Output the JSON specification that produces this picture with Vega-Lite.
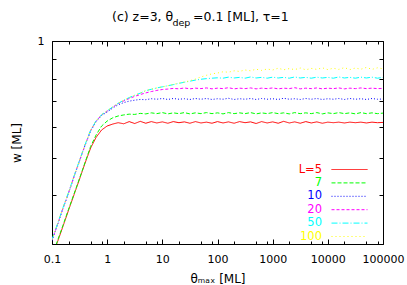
{
"$schema": "https://vega.github.io/schema/vega-lite/v6.json",
"width": 331, "height": 203,
"autosize": "none",
"padding": {"left": 52, "top": 41, "right": 24, "bottom": 41},
"background": "white",
"config": {"view": {"stroke": "#000", "strokeWidth": 1}, "font": "DejaVu Sans"},
"title": {"text": "(c) z=3, θ\u00a0\u00a0\u00a0\u00a0\u00a0=0.1 [ML], τ=1", "subtitle": "\u200b\u00a0\u00a0\u00a0\u00a0\u00a0\u00a0\u00a0\u00a0\u00a0\u00a0\u00a0\u00a0\u00a0\u00a0\u00a0\u00a0\u00a0\u00a0\u00a0\u00a0dep", "anchor": "start", "frame": "group", "dx": 60, "font": "DejaVu Sans", "fontSize": 12.5, "fontWeight": "normal", "color": "#000", "subtitleFont": "DejaVu Sans", "subtitleFontSize": 9.5, "subtitleColor": "#000", "subtitlePadding": -6, "offset": 8},
"data": {"values": [
{"t":0.1,"L":5,"w":0.277},{"t":0.126,"L":5,"w":0.304},{"t":0.158,"L":5,"w":0.333},{"t":0.2,"L":5,"w":0.367},{"t":0.251,"L":5,"w":0.402},{"t":0.316,"L":5,"w":0.441},{"t":0.398,"L":5,"w":0.485},{"t":0.501,"L":5,"w":0.530},{"t":0.631,"L":5,"w":0.565},{"t":0.794,"L":5,"w":0.590},
{"t":1,"L":5,"w":0.604},{"t":1.26,"L":5,"w":0.611},{"t":1.58,"L":5,"w":0.616},{"t":2,"L":5,"w":0.612},{"t":2.51,"L":5,"w":0.620},{"t":3.16,"L":5,"w":0.613},{"t":3.98,"L":5,"w":0.621},{"t":5.01,"L":5,"w":0.614},{"t":6.31,"L":5,"w":0.620},{"t":7.94,"L":5,"w":0.615},
{"t":10,"L":5,"w":0.619},{"t":12.6,"L":5,"w":0.614},{"t":15.8,"L":5,"w":0.620},{"t":20,"L":5,"w":0.616},{"t":25.1,"L":5,"w":0.619},{"t":31.6,"L":5,"w":0.614},{"t":39.8,"L":5,"w":0.620},{"t":50.1,"L":5,"w":0.615},{"t":63.1,"L":5,"w":0.618},{"t":79.4,"L":5,"w":0.614},
{"t":100,"L":5,"w":0.620},{"t":126,"L":5,"w":0.615},{"t":158,"L":5,"w":0.619},{"t":200,"L":5,"w":0.614},{"t":251,"L":5,"w":0.620},{"t":316,"L":5,"w":0.616},{"t":398,"L":5,"w":0.619},{"t":501,"L":5,"w":0.613},{"t":631,"L":5,"w":0.620},{"t":794,"L":5,"w":0.615},
{"t":1000,"L":5,"w":0.619},{"t":1260,"L":5,"w":0.614},{"t":1580,"L":5,"w":0.621},{"t":2000,"L":5,"w":0.615},{"t":2510,"L":5,"w":0.619},{"t":3160,"L":5,"w":0.614},{"t":3980,"L":5,"w":0.620},{"t":5010,"L":5,"w":0.615},{"t":6310,"L":5,"w":0.619},{"t":7940,"L":5,"w":0.614},
{"t":10000,"L":5,"w":0.618},{"t":12600,"L":5,"w":0.616},{"t":15800,"L":5,"w":0.618},{"t":20000,"L":5,"w":0.615},{"t":25100,"L":5,"w":0.618},{"t":31600,"L":5,"w":0.616},{"t":39800,"L":5,"w":0.618},{"t":50100,"L":5,"w":0.615},{"t":63100,"L":5,"w":0.618},{"t":79400,"L":5,"w":0.616},{"t":100000,"L":5,"w":0.617},

{"t":0.1,"L":7,"w":0.279},{"t":0.126,"L":7,"w":0.306},{"t":0.158,"L":7,"w":0.335},{"t":0.2,"L":7,"w":0.369},{"t":0.251,"L":7,"w":0.404},{"t":0.316,"L":7,"w":0.443},{"t":0.398,"L":7,"w":0.487},{"t":0.501,"L":7,"w":0.535},{"t":0.631,"L":7,"w":0.573},{"t":0.794,"L":7,"w":0.604},
{"t":1,"L":7,"w":0.622},{"t":1.26,"L":7,"w":0.634},{"t":1.58,"L":7,"w":0.641},{"t":2,"L":7,"w":0.645},{"t":2.51,"L":7,"w":0.648},{"t":3.16,"L":7,"w":0.647},{"t":3.98,"L":7,"w":0.651},{"t":5.01,"L":7,"w":0.649},{"t":6.31,"L":7,"w":0.653},{"t":7.94,"L":7,"w":0.650},
{"t":10,"L":7,"w":0.654},{"t":12.6,"L":7,"w":0.649},{"t":15.8,"L":7,"w":0.653},{"t":20,"L":7,"w":0.650},{"t":25.1,"L":7,"w":0.654},{"t":31.6,"L":7,"w":0.649},{"t":39.8,"L":7,"w":0.653},{"t":50.1,"L":7,"w":0.650},{"t":63.1,"L":7,"w":0.654},{"t":79.4,"L":7,"w":0.650},
{"t":100,"L":7,"w":0.653},{"t":126,"L":7,"w":0.649},{"t":158,"L":7,"w":0.654},{"t":200,"L":7,"w":0.650},{"t":251,"L":7,"w":0.653},{"t":316,"L":7,"w":0.650},{"t":398,"L":7,"w":0.654},{"t":501,"L":7,"w":0.649},{"t":631,"L":7,"w":0.653},{"t":794,"L":7,"w":0.650},
{"t":1000,"L":7,"w":0.654},{"t":1260,"L":7,"w":0.650},{"t":1580,"L":7,"w":0.653},{"t":2000,"L":7,"w":0.649},{"t":2510,"L":7,"w":0.654},{"t":3160,"L":7,"w":0.650},{"t":3980,"L":7,"w":0.653},{"t":5010,"L":7,"w":0.650},{"t":6310,"L":7,"w":0.654},{"t":7940,"L":7,"w":0.649},
{"t":10000,"L":7,"w":0.653},{"t":12600,"L":7,"w":0.650},{"t":15800,"L":7,"w":0.654},{"t":20000,"L":7,"w":0.650},{"t":25100,"L":7,"w":0.653},{"t":31600,"L":7,"w":0.649},{"t":39800,"L":7,"w":0.654},{"t":50100,"L":7,"w":0.650},{"t":63100,"L":7,"w":0.653},{"t":79400,"L":7,"w":0.650},{"t":100000,"L":7,"w":0.652},

{"t":0.1,"L":10,"w":0.306},{"t":0.126,"L":10,"w":0.336},{"t":0.158,"L":10,"w":0.370},{"t":0.2,"L":10,"w":0.406},{"t":0.251,"L":10,"w":0.447},{"t":0.316,"L":10,"w":0.491},{"t":0.398,"L":10,"w":0.539},{"t":0.501,"L":10,"w":0.586},{"t":0.631,"L":10,"w":0.620},{"t":0.794,"L":10,"w":0.643},
{"t":1,"L":10,"w":0.656},{"t":1.26,"L":10,"w":0.672},{"t":1.58,"L":10,"w":0.685},{"t":2,"L":10,"w":0.694},{"t":2.51,"L":10,"w":0.700},{"t":3.16,"L":10,"w":0.704},{"t":3.98,"L":10,"w":0.707},{"t":5.01,"L":10,"w":0.706},{"t":6.31,"L":10,"w":0.710},{"t":7.94,"L":10,"w":0.708},
{"t":10,"L":10,"w":0.711},{"t":12.6,"L":10,"w":0.707},{"t":15.8,"L":10,"w":0.711},{"t":20,"L":10,"w":0.708},{"t":25.1,"L":10,"w":0.710},{"t":31.6,"L":10,"w":0.707},{"t":39.8,"L":10,"w":0.711},{"t":50.1,"L":10,"w":0.708},{"t":63.1,"L":10,"w":0.711},{"t":79.4,"L":10,"w":0.707},
{"t":100,"L":10,"w":0.710},{"t":126,"L":10,"w":0.708},{"t":158,"L":10,"w":0.712},{"t":200,"L":10,"w":0.707},{"t":251,"L":10,"w":0.710},{"t":316,"L":10,"w":0.708},{"t":398,"L":10,"w":0.711},{"t":501,"L":10,"w":0.707},{"t":631,"L":10,"w":0.711},{"t":794,"L":10,"w":0.708},
{"t":1000,"L":10,"w":0.710},{"t":1260,"L":10,"w":0.707},{"t":1580,"L":10,"w":0.712},{"t":2000,"L":10,"w":0.708},{"t":2510,"L":10,"w":0.710},{"t":3160,"L":10,"w":0.707},{"t":3980,"L":10,"w":0.711},{"t":5010,"L":10,"w":0.708},{"t":6310,"L":10,"w":0.711},{"t":7940,"L":10,"w":0.707},
{"t":10000,"L":10,"w":0.710},{"t":12600,"L":10,"w":0.708},{"t":15800,"L":10,"w":0.711},{"t":20000,"L":10,"w":0.707},{"t":25100,"L":10,"w":0.711},{"t":31600,"L":10,"w":0.708},{"t":39800,"L":10,"w":0.710},{"t":50100,"L":10,"w":0.707},{"t":63100,"L":10,"w":0.711},{"t":79400,"L":10,"w":0.708},{"t":100000,"L":10,"w":0.709},

{"t":0.1,"L":20,"w":0.307},{"t":0.126,"L":20,"w":0.337},{"t":0.158,"L":20,"w":0.371},{"t":0.2,"L":20,"w":0.407},{"t":0.251,"L":20,"w":0.448},{"t":0.316,"L":20,"w":0.492},{"t":0.398,"L":20,"w":0.540},{"t":0.501,"L":20,"w":0.588},{"t":0.631,"L":20,"w":0.622},{"t":0.794,"L":20,"w":0.645},
{"t":1,"L":20,"w":0.660},{"t":1.26,"L":20,"w":0.675},{"t":1.58,"L":20,"w":0.690},{"t":2,"L":20,"w":0.701},{"t":2.51,"L":20,"w":0.711},{"t":3.16,"L":20,"w":0.720},{"t":3.98,"L":20,"w":0.728},{"t":5.01,"L":20,"w":0.735},{"t":6.31,"L":20,"w":0.741},{"t":7.94,"L":20,"w":0.746},
{"t":10,"L":20,"w":0.750},{"t":12.6,"L":20,"w":0.752},{"t":15.8,"L":20,"w":0.755},{"t":20,"L":20,"w":0.753},{"t":25.1,"L":20,"w":0.757},{"t":31.6,"L":20,"w":0.753},{"t":39.8,"L":20,"w":0.756},{"t":50.1,"L":20,"w":0.754},{"t":63.1,"L":20,"w":0.757},{"t":79.4,"L":20,"w":0.753},
{"t":100,"L":20,"w":0.756},{"t":126,"L":20,"w":0.754},{"t":158,"L":20,"w":0.758},{"t":200,"L":20,"w":0.753},{"t":251,"L":20,"w":0.756},{"t":316,"L":20,"w":0.754},{"t":398,"L":20,"w":0.757},{"t":501,"L":20,"w":0.753},{"t":631,"L":20,"w":0.756},{"t":794,"L":20,"w":0.754},
{"t":1000,"L":20,"w":0.757},{"t":1260,"L":20,"w":0.753},{"t":1580,"L":20,"w":0.756},{"t":2000,"L":20,"w":0.754},{"t":2510,"L":20,"w":0.758},{"t":3160,"L":20,"w":0.753},{"t":3980,"L":20,"w":0.756},{"t":5010,"L":20,"w":0.754},{"t":6310,"L":20,"w":0.757},{"t":7940,"L":20,"w":0.753},
{"t":10000,"L":20,"w":0.756},{"t":12600,"L":20,"w":0.754},{"t":15800,"L":20,"w":0.757},{"t":20000,"L":20,"w":0.753},{"t":25100,"L":20,"w":0.756},{"t":31600,"L":20,"w":0.754},{"t":39800,"L":20,"w":0.757},{"t":50100,"L":20,"w":0.754},{"t":63100,"L":20,"w":0.756},{"t":79400,"L":20,"w":0.754},{"t":100000,"L":20,"w":0.755},

{"t":0.1,"L":50,"w":0.308},{"t":0.126,"L":50,"w":0.338},{"t":0.158,"L":50,"w":0.372},{"t":0.2,"L":50,"w":0.408},{"t":0.251,"L":50,"w":0.449},{"t":0.316,"L":50,"w":0.493},{"t":0.398,"L":50,"w":0.541},{"t":0.501,"L":50,"w":0.589},{"t":0.631,"L":50,"w":0.623},{"t":0.794,"L":50,"w":0.646},
{"t":1,"L":50,"w":0.661},{"t":1.26,"L":50,"w":0.676},{"t":1.58,"L":50,"w":0.691},{"t":2,"L":50,"w":0.704},{"t":2.51,"L":50,"w":0.715},{"t":3.16,"L":50,"w":0.725},{"t":3.98,"L":50,"w":0.734},{"t":5.01,"L":50,"w":0.745},{"t":6.31,"L":50,"w":0.751},{"t":7.94,"L":50,"w":0.757},
{"t":10,"L":50,"w":0.762},{"t":12.6,"L":50,"w":0.767},{"t":15.8,"L":50,"w":0.772},{"t":20,"L":50,"w":0.778},{"t":25.1,"L":50,"w":0.783},{"t":31.6,"L":50,"w":0.788},{"t":39.8,"L":50,"w":0.793},{"t":50.1,"L":50,"w":0.797},{"t":63.1,"L":50,"w":0.800},{"t":79.4,"L":50,"w":0.802},
{"t":100,"L":50,"w":0.804},{"t":126,"L":50,"w":0.802},{"t":158,"L":50,"w":0.807},{"t":200,"L":50,"w":0.803},{"t":251,"L":50,"w":0.806},{"t":316,"L":50,"w":0.802},{"t":398,"L":50,"w":0.808},{"t":501,"L":50,"w":0.803},{"t":631,"L":50,"w":0.806},{"t":794,"L":50,"w":0.802},
{"t":1000,"L":50,"w":0.807},{"t":1260,"L":50,"w":0.803},{"t":1580,"L":50,"w":0.806},{"t":2000,"L":50,"w":0.802},{"t":2510,"L":50,"w":0.808},{"t":3160,"L":50,"w":0.803},{"t":3980,"L":50,"w":0.806},{"t":5010,"L":50,"w":0.802},{"t":6310,"L":50,"w":0.807},{"t":7940,"L":50,"w":0.803},
{"t":10000,"L":50,"w":0.806},{"t":12600,"L":50,"w":0.802},{"t":15800,"L":50,"w":0.808},{"t":20000,"L":50,"w":0.803},{"t":25100,"L":50,"w":0.806},{"t":31600,"L":50,"w":0.802},{"t":39800,"L":50,"w":0.807},{"t":50100,"L":50,"w":0.803},{"t":63100,"L":50,"w":0.807},{"t":79400,"L":50,"w":0.802},{"t":100000,"L":50,"w":0.806},

{"t":0.1,"L":100,"w":0.308},{"t":0.126,"L":100,"w":0.338},{"t":0.158,"L":100,"w":0.372},{"t":0.2,"L":100,"w":0.408},{"t":0.251,"L":100,"w":0.449},{"t":0.316,"L":100,"w":0.493},{"t":0.398,"L":100,"w":0.541},{"t":0.501,"L":100,"w":0.589},{"t":0.631,"L":100,"w":0.623},{"t":0.794,"L":100,"w":0.646},
{"t":1,"L":100,"w":0.661},{"t":1.26,"L":100,"w":0.676},{"t":1.58,"L":100,"w":0.691},{"t":2,"L":100,"w":0.704},{"t":2.51,"L":100,"w":0.715},{"t":3.16,"L":100,"w":0.725},{"t":3.98,"L":100,"w":0.734},{"t":5.01,"L":100,"w":0.745},{"t":6.31,"L":100,"w":0.751},{"t":7.94,"L":100,"w":0.757},
{"t":10,"L":100,"w":0.762},{"t":12.6,"L":100,"w":0.767},{"t":15.8,"L":100,"w":0.773},{"t":20,"L":100,"w":0.779},{"t":25.1,"L":100,"w":0.784},{"t":31.6,"L":100,"w":0.790},{"t":39.8,"L":100,"w":0.798},{"t":50.1,"L":100,"w":0.808},{"t":63.1,"L":100,"w":0.816},{"t":79.4,"L":100,"w":0.823},
{"t":100,"L":100,"w":0.827},{"t":126,"L":100,"w":0.833},{"t":158,"L":100,"w":0.831},{"t":200,"L":100,"w":0.838},{"t":251,"L":100,"w":0.835},{"t":316,"L":100,"w":0.842},{"t":398,"L":100,"w":0.838},{"t":501,"L":100,"w":0.846},{"t":631,"L":100,"w":0.840},{"t":794,"L":100,"w":0.847},
{"t":1000,"L":100,"w":0.842},{"t":1260,"L":100,"w":0.851},{"t":1580,"L":100,"w":0.843},{"t":2000,"L":100,"w":0.849},{"t":2510,"L":100,"w":0.844},{"t":3160,"L":100,"w":0.852},{"t":3980,"L":100,"w":0.843},{"t":5010,"L":100,"w":0.850},{"t":6310,"L":100,"w":0.845},{"t":7940,"L":100,"w":0.853},
{"t":10000,"L":100,"w":0.844},{"t":12600,"L":100,"w":0.851},{"t":15800,"L":100,"w":0.845},{"t":20000,"L":100,"w":0.854},{"t":25100,"L":100,"w":0.844},{"t":31600,"L":100,"w":0.852},{"t":39800,"L":100,"w":0.846},{"t":50100,"L":100,"w":0.855},{"t":63100,"L":100,"w":0.845},{"t":79400,"L":100,"w":0.853},{"t":100000,"L":100,"w":0.848}
]},
"layer": [
{"mark": {"type": "line", "strokeWidth": 1, "clip": true},
 "encoding": {
  "x": {"field": "t", "type": "quantitative", "scale": {"type": "log", "domain": [0.1, 100000], "nice": false},
        "axis": {"orient": "bottom", "values": [0.1,0.2,0.5,0.8,1,2,5,8,10,20,50,80,100,200,500,800,1000,2000,5000,8000,10000,20000,50000,80000,100000],
                 "labelExpr": "indexof(['0.1','1','10','100','1000','10000','100000'], toString(datum.value)) >= 0 ? toString(datum.value) : ''",
                 "tickSize": {"condition": {"test": "indexof(['0.1','1','10','100','1000','10000','100000'], toString(datum.value)) >= 0", "value": -5}, "value": -3},
                 "labelPadding": 14, "labelFontSize": 11, "labelColor": "#000", "labelFlush": false, "labelOverlap": false, "labelFont": "DejaVu Sans",
                 "domain": false, "grid": false, "tickColor": "#000",
                 "title": "θₘₐₓ [ML]", "titleFont": "DejaVu Sans", "titleFontSize": 12, "titleFontWeight": "normal", "titleColor": "#000", "titlePadding": 7}},
  "y": {"field": "w", "type": "quantitative", "scale": {"type": "log", "domain": [0.3, 1], "nice": false},
        "axis": {"orient": "left", "values": [0.3,0.4,0.5,0.6,0.7,0.8,0.9,1],
                 "labelExpr": "datum.value == 1 ? '1' : ''",
                 "tickSize": -4, "labelPadding": 12, "labelFontSize": 11, "labelColor": "#000", "labelFont": "DejaVu Sans",
                 "domain": false, "grid": false, "tickColor": "#000",
                 "title": "w [ML]", "titleFont": "DejaVu Sans", "titleFontSize": 12, "titleFontWeight": "normal", "titleColor": "#000", "titlePadding": 14}},
  "color": {"field": "L", "type": "nominal",
            "scale": {"domain": [5,7,10,20,50,100], "range": ["#ff0000","#00ff00","#0000ff","#ff00ff","#00ffff","#ffff00"]},
            "legend": {"orient": "none", "legendX": 291, "legendY": 122, "title": null,
                       "symbolType": "M-3,0H3", "symbolSize": 144, "symbolStrokeWidth": 1,
                       "labelAlign": "right", "labelOffset": -34, "labelFontSize": 11.5, "labelFont": "DejaVu Sans", "rowPadding": 1.4,
                       "labelExpr": "datum.value == 5 ? 'L=5' : datum.label",
                       "labelColor": {"expr": "datum.value == 5 ? '#ff0000' : datum.value == 7 ? '#00ff00' : datum.value == 10 ? '#0000ff' : datum.value == 20 ? '#ff00ff' : datum.value == 50 ? '#00ffff' : '#ffff00'"}}},
  "strokeDash": {"field": "L", "type": "nominal",
            "scale": {"domain": [5,7,10,20,50,100], "range": [[1,0],[4,2],[1,2],[3,2],[6,2,1,2],[1,3]]},
            "legend": {"orient": "none", "legendX": 291, "legendY": 122, "title": null,
                       "symbolType": "M-3,0H3", "symbolSize": 144, "symbolStrokeWidth": 1,
                       "labelAlign": "right", "labelOffset": -34, "labelFontSize": 11.5, "labelFont": "DejaVu Sans", "rowPadding": 1.4,
                       "labelExpr": "datum.value == 5 ? 'L=5' : datum.label",
                       "labelColor": {"expr": "datum.value == 5 ? '#ff0000' : datum.value == 7 ? '#00ff00' : datum.value == 10 ? '#0000ff' : datum.value == 20 ? '#ff00ff' : datum.value == 50 ? '#00ffff' : '#ffff00'"}}}
 }},
{"mark": {"type": "line", "opacity": 0},
 "encoding": {
  "x": {"field": "t", "type": "quantitative",
        "axis": {"orient": "top", "values": [0.1,0.2,0.5,0.8,1,2,5,8,10,20,50,80,100,200,500,800,1000,2000,5000,8000,10000,20000,50000,80000,100000],
                 "labels": false, "domain": false, "grid": false, "tickColor": "#000", "title": null,
                 "tickSize": {"condition": {"test": "indexof(['0.1','1','10','100','1000','10000','100000'], toString(datum.value)) >= 0", "value": -5}, "value": -3}}},
  "y": {"field": "w", "type": "quantitative",
        "axis": {"orient": "right", "values": [0.3,0.4,0.5,0.6,0.7,0.8,0.9,1],
                 "labels": false, "domain": false, "grid": false, "tickColor": "#000", "title": null, "tickSize": -4}}
 }}
],
"resolve": {"axis": {"x": "independent", "y": "independent"}}
}
